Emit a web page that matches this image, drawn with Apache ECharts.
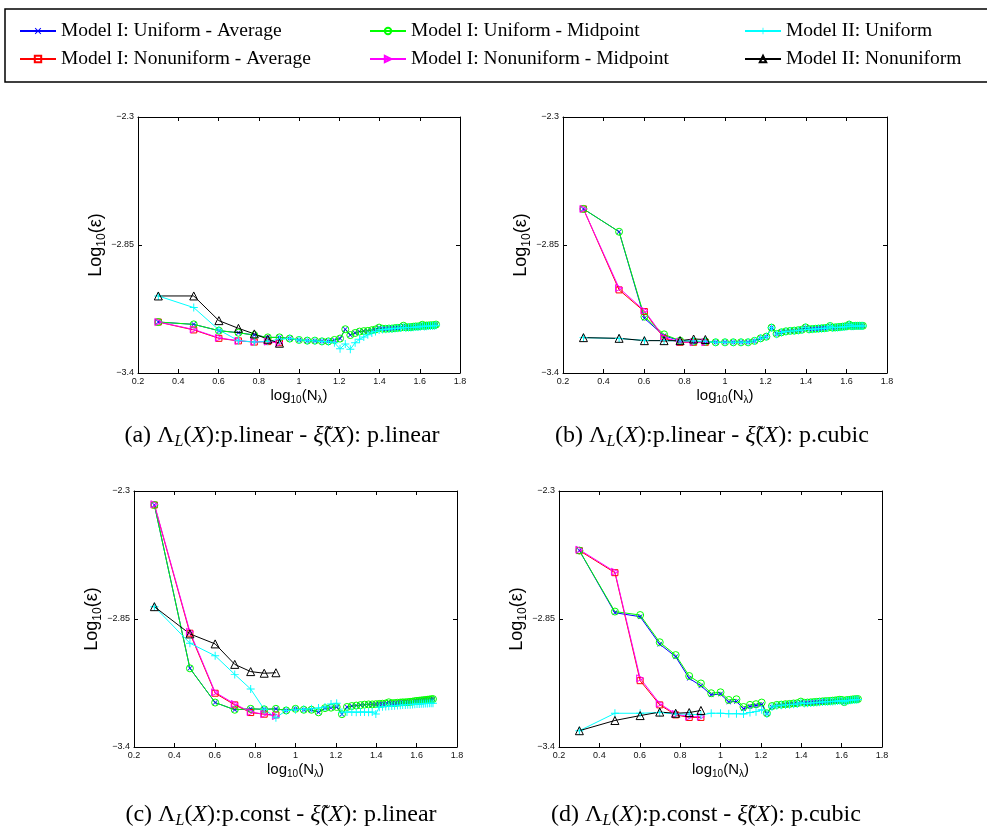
<!DOCTYPE html>
<html>
<head>
<meta charset="utf-8">
<script src="https://cdn.jsdelivr.net/npm/echarts@6/dist/echarts.min.js"></script>
<style>html,body{margin:0;padding:0;background:#fff;}#main{width:987px;height:828px;}</style>
</head>
<body>
<div id="main"></div>
<script>
// ---------- DATA ----------
const seriesNames = [
  'Model I: Uniform - Average', 'Model I: Nonuniform - Average',
  'Model I: Uniform - Midpoint', 'Model I: Nonuniform - Midpoint',
  'Model II: Uniform', 'Model II: Nonuniform'
];
const xTicks = [0.2, 0.4, 0.6, 0.8, 1.0, 1.2, 1.4, 1.6, 1.8];
const yTicks = [-3.4, -2.85, -2.3];

// log10(N_lambda) positions
const xUniform = [0.301,0.477,0.602,0.699,0.778,0.845,0.903,0.954,1.000,1.041,1.079,1.114,1.146,1.176,1.204,1.230,1.255,1.279,1.301,1.322,1.342,1.362,1.380,1.398,1.415,1.431,1.447,1.462,1.477,1.491,1.505,1.519,1.531,1.544,1.556,1.568,1.580,1.591,1.602,1.613,1.623,1.633,1.643,1.653,1.663,1.672,1.681];
const xNonuniform = [0.301,0.477,0.602,0.699,0.778,0.845,0.903];

// Panel (a)
const a_UA = [-3.181,-3.191,-3.218,-3.227,-3.237,-3.247,-3.247,-3.252,-3.258,-3.261,-3.261,-3.264,-3.264,-3.258,-3.252,-3.212,-3.237,-3.228,-3.222,-3.220,-3.219,-3.216,-3.213,-3.205,-3.210,-3.210,-3.209,-3.209,-3.207,-3.206,-3.205,-3.197,-3.204,-3.203,-3.203,-3.201,-3.200,-3.200,-3.199,-3.193,-3.198,-3.196,-3.196,-3.195,-3.195,-3.195,-3.192];
const a_UM = [-3.181,-3.191,-3.218,-3.227,-3.237,-3.247,-3.247,-3.252,-3.258,-3.261,-3.261,-3.264,-3.264,-3.258,-3.252,-3.212,-3.237,-3.228,-3.222,-3.220,-3.219,-3.216,-3.213,-3.205,-3.210,-3.210,-3.209,-3.209,-3.207,-3.206,-3.205,-3.197,-3.204,-3.203,-3.203,-3.201,-3.200,-3.200,-3.199,-3.193,-3.198,-3.196,-3.196,-3.195,-3.195,-3.195,-3.192];
const a_IIU = [-3.069,-3.119,-3.215,-3.261,-3.267,-3.264,-3.255,-3.252,-3.258,-3.261,-3.262,-3.265,-3.266,-3.270,-3.296,-3.275,-3.298,-3.270,-3.255,-3.245,-3.236,-3.228,-3.222,-3.215,-3.213,-3.212,-3.211,-3.210,-3.209,-3.208,-3.207,-3.203,-3.206,-3.205,-3.204,-3.203,-3.202,-3.202,-3.201,-3.198,-3.200,-3.199,-3.198,-3.198,-3.197,-3.197,-3.195];
const a_NA = [-3.181,-3.215,-3.251,-3.262,-3.267,-3.265,-3.270];
const a_NM = [-3.181,-3.213,-3.249,-3.262,-3.266,-3.265,-3.270];
const a_IIN = [-3.069,-3.069,-3.175,-3.208,-3.232,-3.255,-3.272];

// Panel (b)
const b_UA = [-2.695,-2.793,-3.165,-3.240,-3.261,-3.265,-3.265,-3.268,-3.268,-3.268,-3.268,-3.268,-3.262,-3.251,-3.244,-3.205,-3.232,-3.225,-3.221,-3.219,-3.218,-3.216,-3.214,-3.204,-3.212,-3.211,-3.210,-3.209,-3.208,-3.207,-3.206,-3.198,-3.205,-3.204,-3.203,-3.202,-3.201,-3.200,-3.199,-3.192,-3.198,-3.198,-3.197,-3.197,-3.197,-3.197,-3.197];
const b_UM = [-2.695,-2.793,-3.158,-3.234,-3.261,-3.265,-3.265,-3.268,-3.268,-3.268,-3.268,-3.268,-3.262,-3.251,-3.244,-3.205,-3.232,-3.225,-3.221,-3.219,-3.218,-3.216,-3.214,-3.204,-3.212,-3.211,-3.210,-3.209,-3.208,-3.207,-3.206,-3.198,-3.205,-3.204,-3.203,-3.202,-3.201,-3.200,-3.199,-3.192,-3.198,-3.198,-3.197,-3.197,-3.197,-3.197,-3.197];
const b_IIU = [-3.248,-3.252,-3.260,-3.261,-3.262,-3.262,-3.264,-3.268,-3.268,-3.268,-3.268,-3.268,-3.262,-3.251,-3.244,-3.206,-3.233,-3.226,-3.222,-3.220,-3.219,-3.217,-3.215,-3.205,-3.213,-3.212,-3.211,-3.210,-3.209,-3.208,-3.207,-3.199,-3.206,-3.205,-3.204,-3.203,-3.202,-3.201,-3.200,-3.193,-3.199,-3.199,-3.198,-3.198,-3.198,-3.198,-3.198];
const b_NA = [-2.695,-3.043,-3.136,-3.251,-3.268,-3.268,-3.268];
const b_NM = [-2.695,-3.035,-3.132,-3.248,-3.266,-3.268,-3.268];
const b_IIN = [-3.248,-3.251,-3.261,-3.261,-3.261,-3.254,-3.256];

// Panel (c)
const c_UA = [-2.360,-3.062,-3.209,-3.240,-3.236,-3.238,-3.236,-3.243,-3.236,-3.240,-3.240,-3.251,-3.233,-3.231,-3.228,-3.259,-3.228,-3.224,-3.222,-3.220,-3.218,-3.217,-3.217,-3.216,-3.215,-3.214,-3.213,-3.208,-3.212,-3.211,-3.210,-3.209,-3.208,-3.208,-3.207,-3.206,-3.205,-3.203,-3.202,-3.201,-3.200,-3.199,-3.198,-3.197,-3.196,-3.195,-3.194];
const c_UM = [-2.360,-3.062,-3.209,-3.240,-3.236,-3.238,-3.236,-3.243,-3.236,-3.240,-3.240,-3.251,-3.233,-3.231,-3.228,-3.259,-3.228,-3.224,-3.222,-3.220,-3.218,-3.217,-3.217,-3.216,-3.215,-3.214,-3.213,-3.208,-3.212,-3.211,-3.210,-3.209,-3.208,-3.208,-3.207,-3.206,-3.205,-3.203,-3.202,-3.201,-3.200,-3.199,-3.198,-3.197,-3.196,-3.195,-3.194];
const c_IIU = [-2.797,-2.954,-3.008,-3.088,-3.151,-3.238,-3.274,-3.243,-3.240,-3.238,-3.236,-3.232,-3.228,-3.215,-3.212,-3.251,-3.250,-3.250,-3.251,-3.250,-3.250,-3.251,-3.250,-3.258,-3.229,-3.227,-3.226,-3.225,-3.224,-3.223,-3.222,-3.221,-3.220,-3.219,-3.218,-3.218,-3.217,-3.216,-3.215,-3.215,-3.214,-3.214,-3.213,-3.213,-3.212,-3.212,-3.212];
const c_NA = [-2.360,-2.911,-3.169,-3.219,-3.252,-3.259,-3.262];
const c_NM = [-2.357,-2.905,-3.165,-3.215,-3.250,-3.259,-3.267];
const c_IIN = [-2.797,-2.914,-2.957,-3.045,-3.076,-3.083,-3.081];

// Panel (d)
const d_UA = [-2.556,-2.823,-2.840,-2.958,-3.012,-3.105,-3.137,-3.176,-3.172,-3.207,-3.204,-3.236,-3.226,-3.222,-3.217,-3.257,-3.228,-3.222,-3.221,-3.219,-3.218,-3.216,-3.214,-3.208,-3.212,-3.211,-3.210,-3.209,-3.208,-3.207,-3.206,-3.205,-3.205,-3.204,-3.203,-3.202,-3.201,-3.200,-3.201,-3.209,-3.201,-3.200,-3.199,-3.198,-3.197,-3.197,-3.196];
const d_UM = [-2.556,-2.818,-2.833,-2.950,-3.005,-3.095,-3.127,-3.169,-3.165,-3.198,-3.195,-3.228,-3.219,-3.216,-3.209,-3.255,-3.224,-3.219,-3.218,-3.216,-3.215,-3.213,-3.212,-3.205,-3.210,-3.209,-3.208,-3.207,-3.206,-3.205,-3.204,-3.203,-3.203,-3.202,-3.201,-3.200,-3.199,-3.197,-3.198,-3.207,-3.199,-3.198,-3.197,-3.196,-3.195,-3.195,-3.194];
const d_IIU = [-3.330,-3.255,-3.255,-3.252,-3.258,-3.259,-3.262,-3.255,-3.255,-3.257,-3.257,-3.258,-3.252,-3.248,-3.240,-3.258,-3.228,-3.223,-3.221,-3.219,-3.218,-3.216,-3.215,-3.210,-3.213,-3.212,-3.211,-3.210,-3.209,-3.208,-3.207,-3.206,-3.206,-3.205,-3.204,-3.203,-3.202,-3.201,-3.201,-3.206,-3.201,-3.200,-3.199,-3.198,-3.197,-3.197,-3.196];
const d_NA = [-2.556,-2.651,-3.115,-3.219,-3.262,-3.273,-3.273];
const d_NM = [-2.552,-2.647,-3.105,-3.214,-3.258,-3.270,-3.270];
const d_IIN = [-3.330,-3.286,-3.265,-3.250,-3.255,-3.252,-3.243];

const panels = [
  {UA: a_UA, NA: a_NA, UM: a_UM, NM: a_NM, IIU: a_IIU, IIN: a_IIN},
  {UA: b_UA, NA: b_NA, UM: b_UM, NM: b_NM, IIU: b_IIU, IIN: b_IIN},
  {UA: c_UA, NA: c_NA, UM: c_UM, NM: c_NM, IIU: c_IIU, IIN: c_IIN},
  {UA: d_UA, NA: d_NA, UM: d_UM, NM: d_NM, IIU: d_IIU, IIN: d_IIN}
];
const captionKeys = [
  ['(a)', 'p.linear', 'p.linear'],
  ['(b)', 'p.linear', 'p.cubic'],
  ['(c)', 'p.const', 'p.linear'],
  ['(d)', 'p.const', 'p.cubic']
];

// ---------- LAYOUT / STYLE ----------
const SERIF = "'Liberation Serif', 'Times New Roman', serif";
const SANS = "'Liberation Sans', Arial, Helvetica, sans-serif";
const grids = [
  {left: 138, top: 117, width: 322, height: 256},
  {left: 563, top: 117, width: 324, height: 256},
  {left: 134, top: 491, width: 323, height: 256},
  {left: 559, top: 491, width: 323, height: 256}
];
const captionPos = [[282, 436], [712, 436], [281, 815], [706, 815]];

const SYM_X = 'path://M0,1L1,0L5,4L9,0L10,1L6,5L10,9L9,10L5,6L1,10L0,9L4,5Z';
const SYM_PLUS = 'path://M4.4,0L5.6,0L5.6,4.4L10,4.4L10,5.6L5.6,5.6L5.6,10L4.4,10L4.4,5.6L0,5.6L0,4.4L4.4,4.4Z';

const styles = {
  UA: {name: seriesNames[0], color: '#0000ff', symbol: SYM_X, size: 5, hollow: false},
  NA: {name: seriesNames[1], color: '#ff0000', symbol: 'rect', size: 6, hollow: true},
  UM: {name: seriesNames[2], color: '#00ff00', symbol: 'circle', size: 7, hollow: true},
  NM: {name: seriesNames[3], color: '#ff00ff', symbol: 'triangle', size: 7, hollow: true, rotate: -90},
  IIU: {name: seriesNames[4], color: '#00ffff', symbol: SYM_PLUS, size: 8, hollow: false},
  IIN: {name: seriesNames[5], color: '#000000', symbol: 'triangle', size: 8, hollow: true}
};
const order = ['UA', 'NA', 'UM', 'NM', 'IIU', 'IIN'];

function fmtTick(v) {
  return String(+v.toFixed(2)).replace('-', '\u2212');
}

const xAxes = [], yAxes = [], series = [], graphics = [];
grids.forEach((g, i) => {
  const tickStyle = {inside: true, length: 4, lineStyle: {color: '#000', width: 1}};
  xAxes.push({
    gridIndex: i, type: 'value', min: 0.2, max: 1.8, interval: 0.2, position: 'bottom',
    axisLine: {onZero: false, lineStyle: {color: '#000', width: 1}},
    axisTick: tickStyle,
    axisLabel: {fontSize: 9, color: '#111', margin: 4, fontFamily: SANS, formatter: fmtTick},
    splitLine: {show: false},
    name: 'log{s|10}(N{s|λ})', nameLocation: 'middle', nameGap: 7,
    nameTextStyle: {fontSize: 15, fontFamily: SANS, color: '#000', lineHeight: 18, verticalAlign: 'top',
      rich: {s: {fontSize: 10, lineHeight: 10, verticalAlign: 'bottom', fontFamily: SANS, color: '#000'}}}
  });
  xAxes.push({
    gridIndex: i, type: 'value', min: 0.2, max: 1.8, interval: 0.2, position: 'top',
    axisLine: {onZero: false, lineStyle: {color: '#000', width: 1}},
    axisTick: tickStyle, axisLabel: {show: false}, splitLine: {show: false}
  });
  yAxes.push({
    gridIndex: i, type: 'value', min: -3.4, max: -2.3, interval: 0.55, position: 'left',
    axisLine: {onZero: false, lineStyle: {color: '#000', width: 1}},
    axisTick: tickStyle,
    axisLabel: {fontSize: 9, color: '#111', margin: 4, fontFamily: SANS, formatter: fmtTick},
    splitLine: {show: false},
    name: 'Log{s|10}(ε)', nameLocation: 'middle', nameGap: 30, nameRotate: 90,
    nameTextStyle: {fontSize: 18, fontFamily: SANS, color: '#000', lineHeight: 22,
      rich: {s: {fontSize: 12, lineHeight: 12, verticalAlign: 'bottom', fontFamily: SANS, color: '#000'}}}
  });
  yAxes.push({
    gridIndex: i, type: 'value', min: -3.4, max: -2.3, interval: 0.55, position: 'right',
    axisLine: {onZero: false, lineStyle: {color: '#000', width: 1}},
    axisTick: tickStyle, axisLabel: {show: false}, splitLine: {show: false}
  });

  const p = panels[i];
  order.forEach(k => {
    const st = styles[k];
    const xs = p[k].length === xUniform.length ? xUniform : xNonuniform;
    series.push({
      type: 'line', name: st.name,
      xAxisIndex: 2 * i, yAxisIndex: 2 * i,
      data: xs.map((x, j) => [x, p[k][j]]),
      symbol: st.symbol, symbolSize: st.size, symbolRotate: st.rotate || 0,
      showSymbol: true, clip: false,
      lineStyle: {color: st.color, width: 1},
      itemStyle: st.hollow
        ? {color: 'rgba(255,255,255,0)', borderColor: st.color, borderWidth: 1}
        : {color: st.color, borderWidth: 0},
      emphasis: {disabled: true},
      animation: false
    });
  });

  const ck = captionKeys[i];
  graphics.push({
    type: 'text', x: captionPos[i][0], y: captionPos[i][1],
    style: {
      text: ck[0] + ' {n|Λ}{sub|L}{n|(}{it|X}{n|):' + ck[1] + ' - }{it|ξ̃}{n|(}{it|X}{n|): ' + ck[2] + '}',
      align: 'center', verticalAlign: 'middle',
      fontSize: 24, fontFamily: SERIF, fill: '#000', lineHeight: 28,
      rich: {
        n: {fontSize: 24, fontFamily: SERIF, fill: '#000', lineHeight: 28},
        it: {fontSize: 24, fontFamily: SERIF, fontStyle: 'italic', fill: '#000', lineHeight: 28},
        sub: {fontSize: 16, fontFamily: SERIF, fontStyle: 'italic', fill: '#000', lineHeight: 16, verticalAlign: 'bottom'}
      }
    }
  });
});

// legend frame
graphics.unshift({
  type: 'rect', shape: {x: 5, y: 9, width: 1000, height: 73},
  style: {fill: 'none', stroke: '#000', lineWidth: 1.5}, z: -1
});

function mkLegend(left, names) {
  return {
    orient: 'vertical', left: left, top: 21, padding: 0,
    itemWidth: 36, itemHeight: 8, itemGap: 8,
    data: names,
    textStyle: {fontSize: 19.5, fontFamily: SERIF, color: '#000', lineHeight: 20},
    selectedMode: false
  };
}

const option = {
  backgroundColor: '#ffffff',
  animation: false,
  legend: [
    mkLegend(19, [seriesNames[0], seriesNames[1]]),
    mkLegend(369, [seriesNames[2], seriesNames[3]]),
    mkLegend(744, [seriesNames[4], seriesNames[5]])
  ],
  grid: grids.map(g => Object.assign({containLabel: false}, g)),
  xAxis: xAxes,
  yAxis: yAxes,
  series: series,
  graphic: graphics
};

const chart = echarts.init(document.getElementById('main'), null, {renderer: 'canvas'});
chart.setOption(option);
</script>
</body>
</html>
